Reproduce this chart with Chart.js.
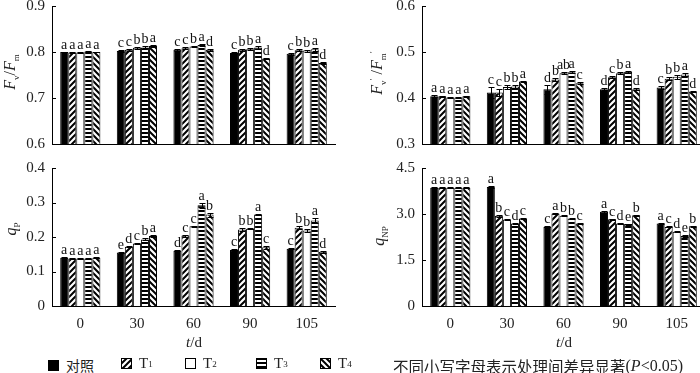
<!DOCTYPE html>
<html>
<head>
<meta charset="utf-8">
<script src="https://cdn.jsdelivr.net/npm/chart.js@4"></script>
<style>
  body { margin: 0; }
  #wrap { position: relative; width: 700px; height: 373px; overflow: hidden; background: #fff;
          font-family: "Liberation Serif", serif; color: #222; }
  #wrap canvas.panel { position: absolute; }
  .ytitle { position: absolute; transform: translate(-50%, -50%) rotate(-90deg); white-space: nowrap; font-size: 16px; }
  .ytitle sub, .ytitle sup { font-size: 9px; font-style: normal; }
  .xtitle { position: absolute; transform: translate(-50%, -50%); font-size: 15px; }
  .leg { position: absolute; top: 355px; font-size: 15px; display: flex; align-items: center; white-space: nowrap; }
  .leg canvas { margin-right: 7px; }
  .leg sub { font-size: 9px; }
  .cjk { font-family: "Noto Sans CJK SC", sans-serif; font-size: 14px; }
  .note { font-size: 16px; }
  .note .cjk { font-size: 15.5px; }
</style>
</head>
<body>
<div id="wrap">
  <canvas id="c1" class="panel" width="345" height="150" style="left:0;top:0"></canvas>
  <canvas id="c2" class="panel" width="345" height="150" style="left:370px;top:0"></canvas>
  <canvas id="c3" class="panel" width="345" height="185" style="left:0;top:150px"></canvas>
  <canvas id="c4" class="panel" width="345" height="185" style="left:370px;top:150px"></canvas>

  <div class="ytitle" style="left:11px;top:72px"><i>F</i><sub>v</sub>/<i>F</i><sub>m</sub></div>
  <div class="ytitle" style="left:378px;top:73px"><i>F</i><sub>v</sub><sup>′</sup> /<i>F</i><sub>m</sub><sup>′</sup></div>
  <div class="ytitle" style="left:12px;top:229px"><i>q</i><sub>P</sub></div>
  <div class="ytitle" style="left:380px;top:236px"><i>q</i><sub>NP</sub></div>

  <div class="xtitle" style="left:194px;top:342px"><i>t</i>/d</div>
  <div class="xtitle" style="left:564px;top:342px"><i>t</i>/d</div>

  <div class="leg" style="left:48px"><canvas id="s0" width="11" height="11"></canvas><span class="cjk">对照</span></div>
  <div class="leg" style="left:121px"><canvas id="s1" width="11" height="11"></canvas>T<sub>1</sub></div>
  <div class="leg" style="left:185px"><canvas id="s2" width="11" height="11"></canvas>T<sub>2</sub></div>
  <div class="leg" style="left:256px"><canvas id="s3" width="11" height="11"></canvas>T<sub>3</sub></div>
  <div class="leg" style="left:320px"><canvas id="s4" width="11" height="11"></canvas>T<sub>4</sub></div>
  <div class="leg note" style="left:393px"><span class="cjk">不同小写字母表示处理间差异显著</span>(<i>P</i>&lt;0.05)</div>
</div>

<script>
// categories (days after treatment)
const days = ['0', '30', '60', '90', '105'];
const treatments = ['对照', 'T1', 'T2', 'T3', 'T4'];

// Fv/Fm
const fvfmCK = [0.800, 0.802, 0.805, 0.798, 0.796];
const fvfmT1 = [0.799, 0.805, 0.808, 0.805, 0.804];
const fvfmT2 = [0.799, 0.809, 0.812, 0.806, 0.803];
const fvfmT3 = [0.801, 0.810, 0.815, 0.810, 0.806];
const fvfmT4 = [0.800, 0.813, 0.805, 0.786, 0.776];
const fvfmErr = [
  [0.001, 0.002, 0.002, 0.002, 0.002],
  [0.001, 0.002, 0.002, 0.002, 0.002],
  [0.001, 0.002, 0.002, 0.002, 0.002],
  [0.002, 0.002, 0.002, 0.004, 0.003],
  [0.001, 0.002, 0.002, 0.002, 0.002]
];
const fvfmSig = [
  ['a', 'c', 'c', 'c', 'c'],
  ['a', 'c', 'c', 'b', 'b'],
  ['a', 'b', 'b', 'b', 'b'],
  ['a', 'b', 'a', 'a', 'a'],
  ['a', 'a', 'd', 'd', 'd']
];

// Fv'/Fm'
const fvpCK = [0.404, 0.412, 0.419, 0.419, 0.423];
const fvpT1 = [0.404, 0.412, 0.440, 0.445, 0.442];
const fvpT2 = [0.401, 0.424, 0.454, 0.454, 0.446];
const fvpT3 = [0.401, 0.425, 0.456, 0.457, 0.451];
const fvpT4 = [0.404, 0.436, 0.432, 0.419, 0.414];
const fvpErr = [
  [0.002, 0.012, 0.010, 0.002, 0.003],
  [0.001, 0.008, 0.003, 0.002, 0.003],
  [0.001, 0.004, 0.002, 0.002, 0.005],
  [0.001, 0.003, 0.002, 0.002, 0.003],
  [0.001, 0.002, 0.002, 0.002, 0.002]
];
const fvpSig = [
  ['a', 'c', 'd', 'd', 'c'],
  ['a', 'c', 'b', 'c', 'b'],
  ['a', 'b', 'ab', 'b', 'b'],
  ['a', 'b', 'a', 'a', 'a'],
  ['a', 'a', 'c', 'd', 'd']
];

// qP
const qpCK = [0.140, 0.155, 0.160, 0.162, 0.166];
const qpT1 = [0.138, 0.172, 0.204, 0.222, 0.227];
const qpT2 = [0.138, 0.181, 0.231, 0.224, 0.219];
const qpT3 = [0.138, 0.193, 0.292, 0.265, 0.248];
const qpT4 = [0.140, 0.203, 0.265, 0.170, 0.157];
const qpErr = [
  [0.001, 0.002, 0.002, 0.003, 0.002],
  [0.001, 0.002, 0.003, 0.004, 0.004],
  [0.001, 0.002, 0.002, 0.002, 0.004],
  [0.001, 0.003, 0.007, 0.002, 0.006],
  [0.001, 0.004, 0.006, 0.004, 0.002]
];
const qpSig = [
  ['a', 'e', 'd', 'c', 'c'],
  ['a', 'd', 'c', 'b', 'b'],
  ['a', 'c', 'c', 'b', 'b'],
  ['a', 'b', 'a', 'a', 'a'],
  ['a', 'a', 'b', 'c', 'd']
];

// qNP
const qnpCK = [3.86, 3.88, 2.58, 3.07, 2.69];
const qnpT1 = [3.86, 2.94, 3.02, 2.83, 2.58];
const qnpT2 = [3.86, 2.82, 2.94, 2.69, 2.42];
const qnpT3 = [3.86, 2.69, 2.85, 2.67, 2.28];
const qnpT4 = [3.86, 2.85, 2.69, 2.96, 2.60];
const qnpErr = [
  [0.02, 0.02, 0.02, 0.03, 0.02],
  [0.02, 0.03, 0.02, 0.02, 0.02],
  [0.02, 0.02, 0.02, 0.02, 0.02],
  [0.02, 0.02, 0.02, 0.02, 0.02],
  [0.02, 0.02, 0.02, 0.02, 0.02]
];
const qnpSig = [
  ['a', 'a', 'c', 'a', 'a'],
  ['a', 'b', 'a', 'c', 'c'],
  ['a', 'c', 'b', 'd', 'd'],
  ['a', 'd', 'b', 'e', 'e'],
  ['a', 'c', 'c', 'b', 'b']
];

// y tick labels
const ticksFvfm = ['0.6', '0.7', '0.8', '0.9'];
const ticksFvp = ['0.3', '0.4', '0.5', '0.6'];
const ticksQp = ['0', '0.1', '0.2', '0.3', '0.4'];
const ticksQnp = ['0', '1.5', '3.0', '4.5'];

// fill patterns for the treatments
function makeFill(kind) {
  if (kind === 'solid') return '#000';
  if (kind === 'white') return '#fff';
  const c = document.createElement('canvas');
  const s = kind === 'h' ? 4 : 6;
  c.width = s; c.height = s;
  const g = c.getContext('2d');
  g.fillStyle = '#fff';
  g.fillRect(0, 0, s, s);
  g.fillStyle = '#000';
  g.strokeStyle = '#000';
  g.lineWidth = 2;
  if (kind === 'h') {
    g.fillRect(0, 0, s, 2);
  } else if (kind === '/') {
    g.beginPath();
    g.moveTo(0, s); g.lineTo(s, 0);
    g.moveTo(-1, 1); g.lineTo(1, -1);
    g.moveTo(s - 1, s + 1); g.lineTo(s + 1, s - 1);
    g.stroke();
  } else {
    g.beginPath();
    g.moveTo(0, 0); g.lineTo(s, s);
    g.moveTo(s - 1, -1); g.lineTo(s + 1, 1);
    g.moveTo(-1, s - 1); g.lineTo(1, s + 1);
    g.stroke();
  }
  return g.createPattern(c, 'repeat');
}
const fills = [makeFill('solid'), makeFill('/'), makeFill('white'), makeFill('h'), makeFill('\\')];

// error bars, significance letters and inward y ticks
const barDecor = {
  id: 'barDecor',
  afterDatasetsDraw(chart, args, opts) {
    const ctx = chart.ctx;
    const y = chart.scales.y;
    const area = chart.chartArea;
    ctx.save();
    ctx.strokeStyle = '#000';
    ctx.lineWidth = 1;
    ctx.fillStyle = '#111';
    ctx.font = '14px "Liberation Serif"';
    ctx.textAlign = 'center';
    ctx.textBaseline = 'bottom';
    chart.data.datasets.forEach((ds, i) => {
      const meta = chart.getDatasetMeta(i);
      meta.data.forEach((bar, j) => {
        const v = ds.data[j];
        const e = opts.err[i][j];
        const yt = Math.round(y.getPixelForValue(v + e)) + 0.5;
        const yb = Math.round(y.getPixelForValue(v - e)) + 0.5;
        const x = Math.round(bar.x) + 0.5;
        ctx.beginPath();
        ctx.moveTo(x, yt); ctx.lineTo(x, yb);
        ctx.moveTo(x - 3, yt); ctx.lineTo(x + 3, yt);
        ctx.moveTo(x - 3, yb); ctx.lineTo(x + 3, yb);
        ctx.stroke();
        ctx.fillText(opts.letters[i][j], bar.x, yt);
      });
    });
    ctx.beginPath();
    y.ticks.forEach(t => {
      const py = Math.round(y.getPixelForValue(t.value)) + 0.5;
      ctx.moveTo(area.left, py);
      ctx.lineTo(area.left + 4, py);
    });
    ctx.stroke();
    ctx.restore();
  }
};

function drawPanel(id, series, err, letters, yMin, yMax, step, tickLabels, showX) {
  const ctx = document.getElementById(id).getContext('2d');
  return new Chart(ctx, {
    type: 'bar',
    data: {
      labels: days,
      datasets: series.map((d, i) => ({
        label: treatments[i],
        data: d,
        backgroundColor: fills[i],
        borderColor: '#000',
        borderWidth: 1,
        categoryPercentage: 0.71,
        barPercentage: 1.0
      }))
    },
    options: {
      responsive: false,
      animation: false,
      layout: { padding: { top: showX ? 18 : 6, right: 10, left: 0, bottom: 0 } },
      plugins: {
        legend: { display: false },
        tooltip: { enabled: false },
        barDecor: { err: err, letters: letters }
      },
      scales: {
        x: {
          grid: { display: false, drawTicks: false },
          border: { display: true, color: '#000', width: 1 },
          ticks: {
            display: showX,
            color: '#222',
            padding: 9,
            font: { family: '"Liberation Serif"', size: 15 }
          },
          afterFit: s => { s.height = showX ? 29 : 6; }
        },
        y: {
          min: yMin,
          max: yMax,
          grid: { display: false, drawTicks: false },
          border: { display: true, color: '#000', width: 1 },
          ticks: {
            stepSize: step,
            color: '#222',
            padding: 7,
            font: { family: '"Liberation Serif"', size: 15 },
            callback: (v, idx) => tickLabels[idx]
          },
          afterFit: s => { s.width = 52; s.paddingTop = 0; s.paddingBottom = 0; }
        }
      }
    },
    plugins: [barDecor]
  });
}

drawPanel('c1', [fvfmCK, fvfmT1, fvfmT2, fvfmT3, fvfmT4], fvfmErr, fvfmSig, 0.6, 0.9, 0.1, ticksFvfm, false);
drawPanel('c2', [fvpCK, fvpT1, fvpT2, fvpT3, fvpT4], fvpErr, fvpSig, 0.3, 0.6, 0.1, ticksFvp, false);
drawPanel('c3', [qpCK, qpT1, qpT2, qpT3, qpT4], qpErr, qpSig, 0, 0.4, 0.1, ticksQp, true);
drawPanel('c4', [qnpCK, qnpT1, qnpT2, qnpT3, qnpT4], qnpErr, qnpSig, 0, 4.5, 1.5, ticksQnp, true);

// legend swatches
fills.forEach((f, i) => {
  const g = document.getElementById('s' + i).getContext('2d');
  g.fillStyle = f;
  g.fillRect(0, 0, 11, 11);
  g.strokeStyle = '#000';
  g.lineWidth = 1;
  g.strokeRect(0.5, 0.5, 10, 10);
});
</script>
</body>
</html>
